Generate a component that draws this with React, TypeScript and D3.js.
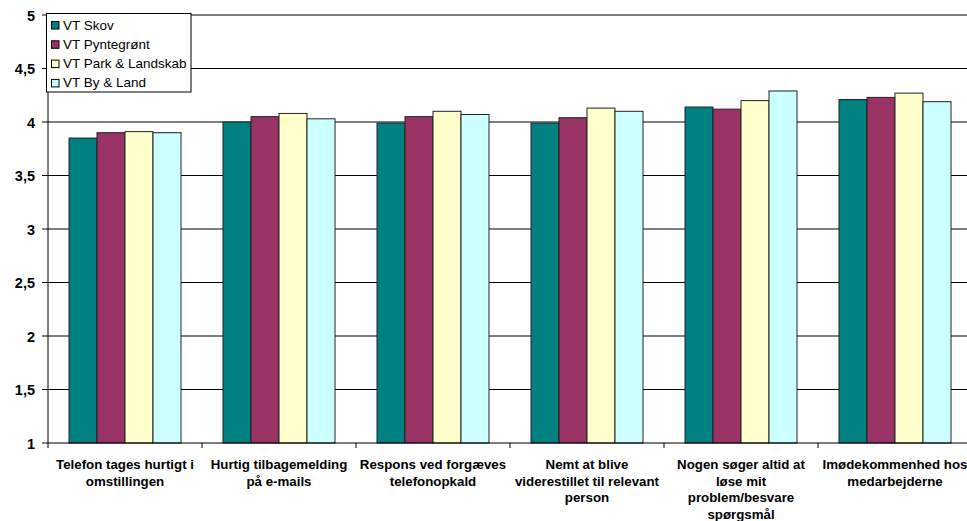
import React from "react";
import * as d3 from "d3";

const categories = [
  ["Telefon tages hurtigt i", "omstillingen"],
  ["Hurtig tilbagemelding", "på e-mails"],
  ["Respons ved forgæves", "telefonopkald"],
  ["Nemt at blive", "viderestillet til relevant", "person"],
  ["Nogen søger altid at", "løse mit", "problem/besvare", "spørgsmål"],
  ["Imødekommenhed hos", "medarbejderne"],
];
const series = ["VT Skov", "VT Pyntegrønt", "VT Park & Landskab", "VT By & Land"];
const colors = ["#008080", "#993366", "#FFFFCC", "#CCFFFF"];
const values = [
  [3.85, 4.0, 3.99, 3.99, 4.14, 4.21],
  [3.9, 4.05, 4.05, 4.04, 4.12, 4.23],
  [3.91, 4.08, 4.1, 4.13, 4.2, 4.27],
  [3.9, 4.03, 4.07, 4.1, 4.29, 4.19],
];
const yTicks = [1, 1.5, 2, 2.5, 3, 3.5, 4, 4.5, 5];

export default function App() {
  const W = 967, H = 521;
  const left = 48, right = 972, top = 15, bottom = 443;
  const idx = categories.map((_, i) => i);
  const x0 = d3.scaleBand<number>().domain(idx).range([left, right]).padding(0);
  const bw = x0.bandwidth();
  const barW = bw / 5.5;
  const x1 = d3.scaleBand<number>().domain([0, 1, 2, 3]).range([barW * 0.75, barW * 4.75]).padding(0);
  const y = d3.scaleLinear().domain([1, 5]).range([bottom, top]);
  const font = "'Liberation Sans', Arial, sans-serif";

  return (
    <svg width={W} height={H} style={{ position: "absolute", left: 0, top: 0, background: "#fff" }} fontFamily={font}>
      {yTicks.map((t) => (
        <g key={t}>
          {t > 1 && <line x1={left} x2={right} y1={y(t)} y2={y(t)} stroke="#000" strokeWidth={1} />}
          <line x1={left - 6} x2={left} y1={y(t)} y2={y(t)} stroke="#000" />
          <text x={35} y={y(t) + 5.5} textAnchor="end" fontSize={14.5} fontWeight="bold">
            {String(t).replace(".", ",")}
          </text>
        </g>
      ))}
      {series.map((s, si) =>
        values[si].map((v, ci) => (
          <rect
            key={s + ci}
            x={(x0(ci) as number) + (x1(si) as number)}
            y={y(v)}
            width={x1.bandwidth()}
            height={bottom - y(v)}
            fill={colors[si]}
            stroke="#222"
            strokeWidth={1}
          />
        ))
      )}
      <line x1={left} x2={left} y1={top} y2={bottom} stroke="#000" />
      <line x1={left} x2={right} y1={bottom} y2={bottom} stroke="#000" />
      {idx.map((i) => (
        <line key={"t" + i} x1={x0(i)} x2={x0(i)} y1={bottom} y2={bottom + 5} stroke="#000" />
      ))}
      {categories.map((lines, i) => (
        <text key={"c" + i} textAnchor="middle" fontSize={13.3} fontWeight="bold">
          {lines.map((l, li) => (
            <tspan key={li} x={(x0(i) as number) + bw / 2} y={469 + li * 16.5}>
              {l}
            </tspan>
          ))}
        </text>
      ))}
      <g>
        <rect x={46.5} y={13.5} width={144.5} height={78.5} fill="#fff" stroke="#000" />
        {series.map((s, si) => (
          <g key={"l" + si}>
            <rect x={51.5} y={21.5 + si * 19.3} width={7.5} height={7.5} fill={colors[si]} stroke="#000" />
            <text x={63} y={29.5 + si * 19.3} fontSize={13.5}>
              {s}
            </text>
          </g>
        ))}
      </g>
    </svg>
  );
}
